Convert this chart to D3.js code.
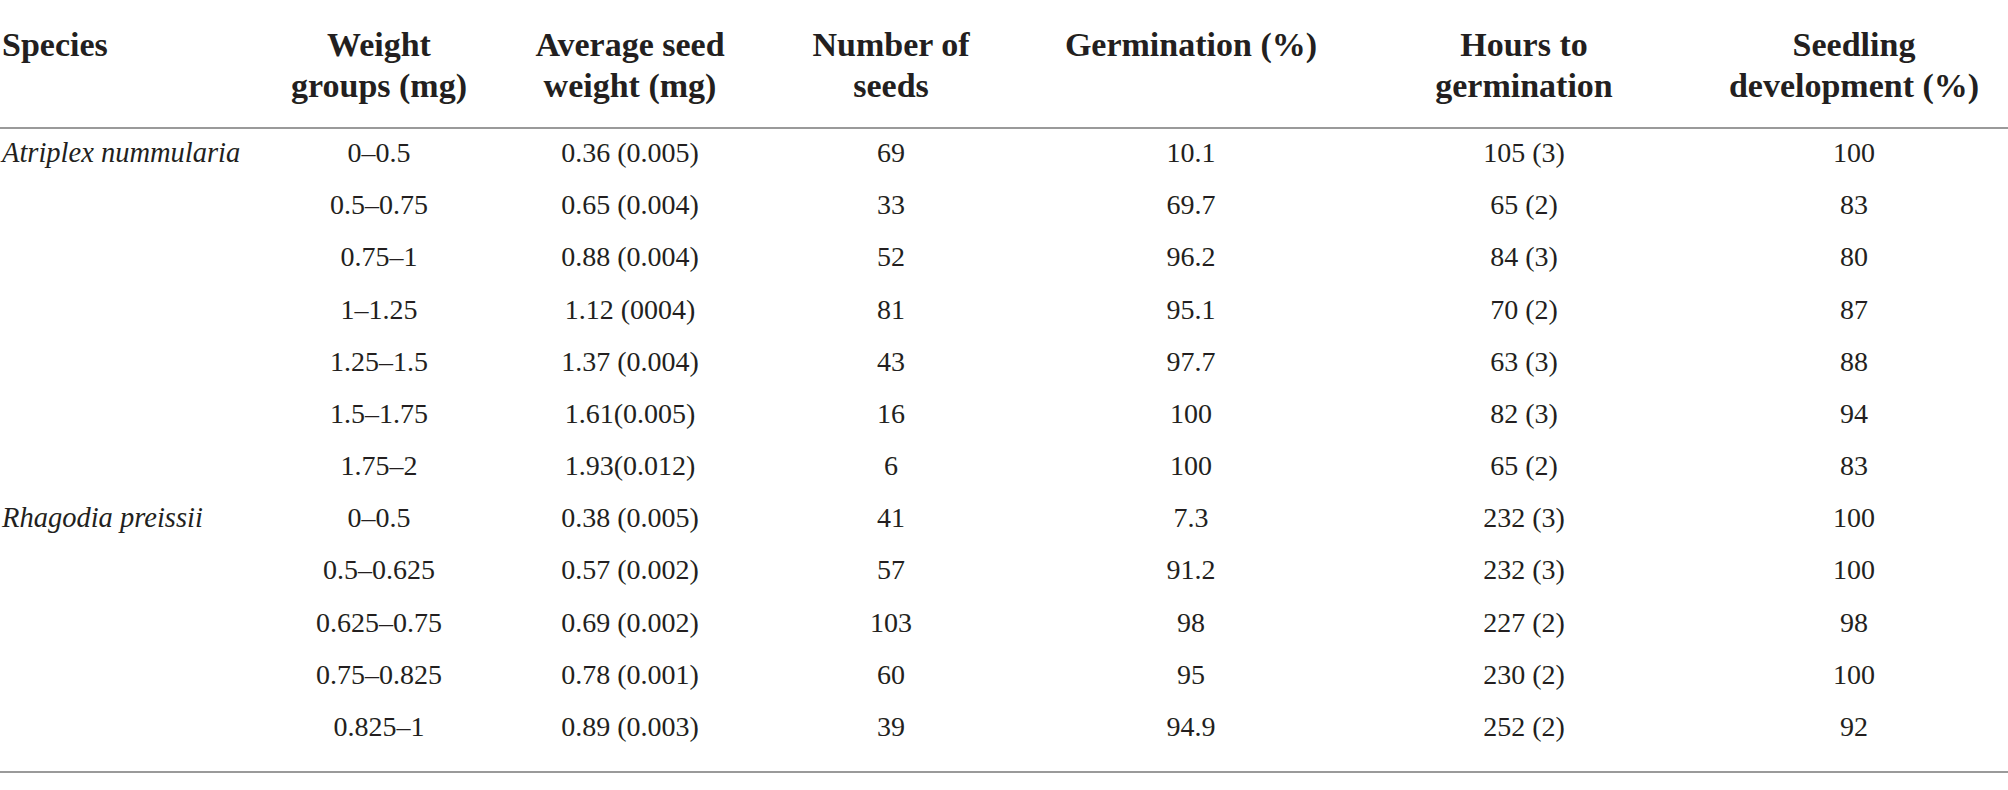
<!DOCTYPE html>
<html>
<head>
<meta charset="utf-8">
<script src="https://cdn.jsdelivr.net/npm/d3@7"></script>
<style>
  body { margin: 0; background: #fff; }
  svg text { font-family: "Liberation Serif", "DejaVu Serif", serif; fill: #231f20; }
</style>
</head>
<body>
<div id="table"></div>
<script>
// column headers (two lines where the table wraps them)
const headers = [
  ["Species"],
  ["Weight", "groups (mg)"],
  ["Average seed", "weight (mg)"],
  ["Number of", "seeds"],
  ["Germination (%)"],
  ["Hours to", "germination"],
  ["Seedling", "development (%)"]
];

// table values, one array per column
const species = ["Atriplex nummularia", "", "", "", "", "", "", "Rhagodia preissii", "", "", "", ""];
const weightGroups = ["0–0.5", "0.5–0.75", "0.75–1", "1–1.25", "1.25–1.5", "1.5–1.75", "1.75–2",
                      "0–0.5", "0.5–0.625", "0.625–0.75", "0.75–0.825", "0.825–1"];
const avgSeedWeight = ["0.36 (0.005)", "0.65 (0.004)", "0.88 (0.004)", "1.12 (0004)", "1.37 (0.004)", "1.61(0.005)", "1.93(0.012)",
                       "0.38 (0.005)", "0.57 (0.002)", "0.69 (0.002)", "0.78 (0.001)", "0.89 (0.003)"];
const numberOfSeeds = [69, 33, 52, 81, 43, 16, 6, 41, 57, 103, 60, 39];
const germination = ["10.1", "69.7", "96.2", "95.1", "97.7", "100", "100", "7.3", "91.2", "98", "95", "94.9"];
const hoursToGerm = ["105 (3)", "65 (2)", "84 (3)", "70 (2)", "63 (3)", "82 (3)", "65 (2)",
                     "232 (3)", "232 (3)", "227 (2)", "230 (2)", "252 (2)"];
const seedlingDev = [100, 83, 80, 87, 88, 94, 83, 100, 100, 98, 100, 92];

const columns = [species, weightGroups, avgSeedWeight, numberOfSeeds, germination, hoursToGerm, seedlingDev];

const width = 2008, height = 790;

const svg = d3.select("#table")
  .append("svg")
    .attr("width", width)
    .attr("height", height);

// column anchors (first column left aligned, others centred)
const x = d3.scaleOrdinal()
  .domain(d3.range(columns.length))
  .range([2, 379, 630, 891, 1191, 1524, 1854]);

// row baselines
const y = d3.scalePoint()
  .domain(d3.range(weightGroups.length))
  .range([162, 736]);

// header
const head = svg.append("g").attr("class", "header");
headers.forEach(function(lines, c) {
  const t = head.append("text")
    .attr("text-anchor", c === 0 ? "start" : "middle")
    .style("font-size", "34px")
    .style("font-weight", "bold");
  lines.forEach(function(l, i) {
    t.append("tspan")
      .attr("x", x(c))
      .attr("y", 56 + i * 41)
      .text(l);
  });
});

// rules
svg.selectAll("line.rule")
  .data([128, 772])
  .join("line")
    .attr("class", "rule")
    .attr("x1", 0)
    .attr("x2", width)
    .attr("y1", d => d)
    .attr("y2", d => d)
    .attr("stroke", "#9a9a9a")
    .attr("stroke-width", 2);

// body cells
columns.forEach(function(col, c) {
  svg.append("g")
    .selectAll("text")
    .data(col)
    .join("text")
      .attr("x", x(c))
      .attr("y", (d, i) => y(i))
      .attr("text-anchor", c === 0 ? "start" : "middle")
      .style("font-size", c === 0 ? "28.5px" : "28px")
      .style("font-style", c === 0 ? "italic" : "normal")
      .text(d => d);
});
</script>
</body>
</html>
